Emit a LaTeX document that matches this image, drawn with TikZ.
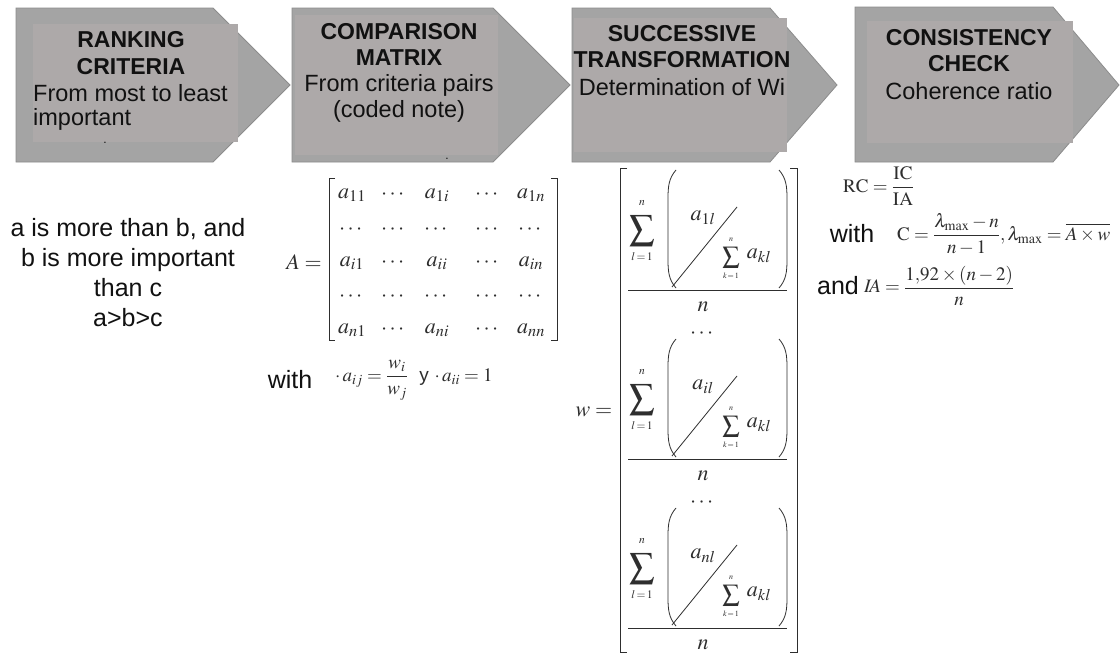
\documentclass[tikz,border=0pt]{standalone}
\usepackage{amsmath}
\usepackage{mathptmx}
\usepackage{fontspec}
\newfontfamily\arial{Liberation Sans}
\definecolor{chev}{HTML}{A4A4A4}
\definecolor{chevin}{HTML}{ADA9A9}
\definecolor{chevline}{HTML}{8C8C8C}
\definecolor{ink}{HTML}{111111}
\definecolor{mink}{HTML}{2E2E2E}
\begin{document}
\begin{tikzpicture}[x=1pt,y=-1pt,
  chevron/.style={fill=chev, draw=chevline, line width=0.8pt},
  innerbox/.style={fill=chevin, draw=none},
  hdr/.style={font=\arial\bfseries\fontsize{23}{26}\selectfont, inner sep=0pt, text=ink},
  bdy/.style={font=\arial\fontsize{23.5}{26}\selectfont, inner sep=0pt, text=ink},
  dotmark/.style={font=\arial\fontsize{12}{13}\selectfont, inner sep=0pt, text=ink},
  big/.style={font=\arial\fontsize{25}{30}\selectfont, inner sep=0pt, text=ink, align=center},
  mth/.style={font=\fontsize{22}{26}\selectfont, inner sep=0pt, text=mink},
  msm/.style={font=\fontsize{19}{23}\selectfont, inner sep=0pt, text=mink},
  lim/.style={font=\fontsize{11.5}{12}\selectfont, inner sep=0pt, text=mink},
  tinylim/.style={font=\fontsize{8}{9}\selectfont, inner sep=0pt, text=mink},
  ml/.style={draw=mink, line width=0.8pt},
]
\useasboundingbox (0,0) rectangle (1120,653);
\fill[white] (0,0) rectangle (1120,653);

% ---------- chevrons ----------
\path[chevron] (16,8) -- (213,8) -- (290,85) -- (213,162) -- (16,162) -- cycle;
\fill[innerbox] (33,24) rectangle (238,142);
\path[chevron] (292,8) -- (493,8) -- (570,85) -- (493,162) -- (292,162) -- cycle;
\fill[innerbox] (295,15) rectangle (498,155);
\path[chevron] (572,8) -- (770,8) -- (837,85) -- (770,162) -- (572,162) -- cycle;
\fill[innerbox] (574,18) rectangle (787,152);
\path[chevron] (855,7) -- (1053,7) -- (1119,85) -- (1053,162) -- (855,162) -- cycle;
\fill[innerbox] (867,21) rectangle (1073,143);

% ---------- header texts ----------
\node[hdr] (t1a) at (131,40) {RANKING};
\node[hdr] (t1b) at (131,67) {CRITERIA};
\node[bdy,anchor=west] (t1c) at (33,93) {From most to least};
\node[bdy,anchor=west] (t1d) at (33,119) {important};
\node[dotmark] (t1e) at (105,143) {.};

\node[hdr] (t2a) at (399,32) {COMPARISON};
\node[hdr] (t2b) at (399,58) {MATRIX};
\node[bdy] (t2c) at (399,85) {From criteria pairs};
\node[bdy] (t2d) at (399,111) {(coded note)};
\node[dotmark] (t2e) at (447,159) {.};

\node[hdr] (t3a) at (682,34) {SUCCESSIVE};
\node[hdr] (t3b) at (682,60) {TRANSFORMATION};
\node[bdy] (t3c) at (682,87) {Determination of Wi};

\node[hdr] (t4a) at (969,38) {CONSISTENCY};
\node[hdr] (t4b) at (969,64) {CHECK};
\node[bdy] (t4c) at (969,91) {Coherence ratio};

% ---------- ranking text ----------
\node[big] (rank) at (128,273) {a is more than b, and\\b is more important\\than c\\a>b>c};

% ---------- comparison matrix ----------
\node[mth] (Aeq) at (304,262) {$A=$};
\draw[ml] (335,178) -- (329,178) -- (329,340) -- (335,340);
\draw[ml] (551,178) -- (557,178) -- (557,340) -- (551,340);
\foreach \r/\y/\ea/\eb/\ec in {1/195/a_{11}/a_{1i}/a_{1n}, 3/263/a_{i1}/a_{ii}/a_{in}, 5/330/a_{n1}/a_{ni}/a_{nn}}{
  \node[mth] (m\r a) at (352,\y) {$\ea$};
  \node[mth] (m\r b) at (394,\y) {$\cdots$};
  \node[mth] (m\r c) at (437,\y) {$\eb$};
  \node[mth] (m\r d) at (488,\y) {$\cdots$};
  \node[mth] (m\r e) at (531,\y) {$\ec$};
}
\foreach \r/\y in {2/230, 4/297}{
  \foreach \c/\x in {a/352, b/394, c/437, d/488, e/531}{
    \node[mth] (m\r\c) at (\x,\y) {$\cdots$};
  }
}
\node[big] (with1) at (290,380) {with};
\node[msm,anchor=west] (aij) at (335,380) {$\cdot\, a_{ij}=\dfrac{w_i}{w_j}$\ \ {\arial y}\ $\cdot\, a_{ii}=1$};

% ---------- weight vector ----------
\node[mth] (weq) at (594,412) {$w=$};
\draw[ml] (627,168) -- (620,168) -- (620,652) -- (627,652);
\draw[ml] (790,168) -- (797,168) -- (797,652) -- (790,652);
\foreach \k/\yo/\sub in {1/170/1l, 2/339/il, 3/508/nl}{
  \node[font=\fontsize{25}{28}\selectfont, inner sep=0pt, text=mink] (s\k) at (642,\yo+61) {$\displaystyle\sum$};
  \node[lim] (su\k) at (642,\yo+33) {$n$};
  \node[lim] (sl\k) at (642,\yo+87) {$l\!=\!1$};
  \draw[ml] (676,\yo) .. controls (669,\yo+8) and (668,\yo+16) .. (668,\yo+28) -- (668,\yo+90) .. controls (668,\yo+102) and (669,\yo+110) .. (676,\yo+118);
  \draw[ml] (779,\yo) .. controls (786,\yo+8) and (787,\yo+16) .. (787,\yo+28) -- (787,\yo+90) .. controls (787,\yo+102) and (786,\yo+110) .. (779,\yo+118);
  \node[mth] (num\k) at (703,\yo+48) {$a_{\sub}$};
  \draw[ml] (672,\yo+117) -- (737,\yo+37);
  \node[font=\fontsize{17}{19}\selectfont, inner sep=0pt, text=mink] (ks\k) at (731,\yo+88) {$\displaystyle\sum$};
  \node[tinylim] (ku\k) at (731,\yo+70) {$n$};
  \node[tinylim] (kl\k) at (731,\yo+106) {$k\!=\!1$};
  \node[mth] (akl\k) at (759,\yo+86) {$a_{kl}$};
  \draw[ml] (628,\yo+120) -- (787,\yo+120);
  \node[mth] (n\k) at (703,\yo+137) {$n$};
}
\node[mth] (d1) at (703,334) {$\cdots$};
\node[mth] (d2) at (703,503) {$\cdots$};

% ---------- consistency ----------
\node[msm,anchor=west] (rc) at (843,186) {$\mathrm{RC}=\dfrac{\mathrm{IC}}{\mathrm{IA}}$};
\node[big] (with2) at (852,234) {with};
\node[msm,anchor=west] (cf) at (897,234) {$\mathrm{C}=\dfrac{\lambda_{\max}-n}{n-1},\lambda_{\max}=\overline{A\times w}$};
\node[big] (and) at (838,286) {and};
\node[msm,anchor=west] (ia) at (864,286) {$I\!A=\dfrac{1{,}92\times(n-2)}{n}$};
\end{tikzpicture}
\end{document}
